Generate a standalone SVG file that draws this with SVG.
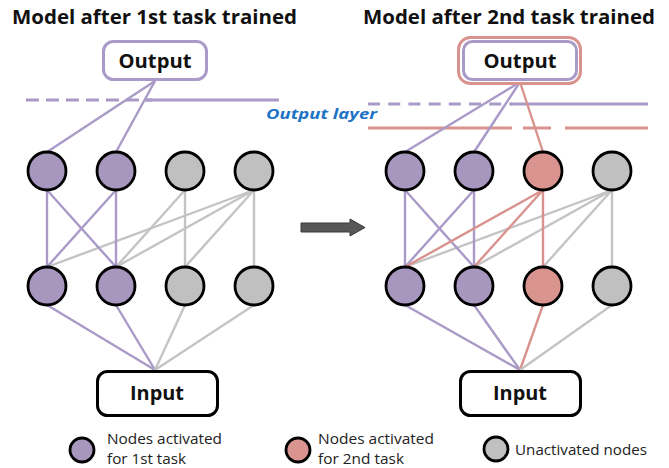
<svg xmlns="http://www.w3.org/2000/svg" width="669" height="468" viewBox="0 0 669 468">
<style>
.title{font-family:"Open Sans","Liberation Sans",sans-serif;font-weight:bold;font-size:20px;fill:#111}
.lbl{font-family:"Open Sans","Liberation Sans",sans-serif;font-weight:bold;font-size:19px;fill:#111;text-anchor:middle}
.leg{font-family:"Open Sans","Liberation Sans",sans-serif;font-size:15px;fill:#222}
.ol{font-family:"Open Sans","Liberation Sans",sans-serif;font-weight:bold;font-style:italic;font-size:15px;fill:#1e73c6}
.p{stroke:#a99ac7;stroke-width:2.4;fill:none}
.r{stroke:#d9938e;stroke-width:2.4;fill:none}
.g{stroke:#c4c4c4;stroke-width:2.4;fill:none}
.np{fill:#a797bf;stroke:#000;stroke-width:2.8}
.nr{fill:#d9948f;stroke:#000;stroke-width:2.8}
.ng{fill:#c0c0c0;stroke:#000;stroke-width:2.8}
.box{fill:#fff;stroke-width:3}
</style>

<text class="title" x="12" y="24" textLength="285" lengthAdjust="spacingAndGlyphs">Model after 1st task trained</text>
<text class="title" x="363" y="24" textLength="292" lengthAdjust="spacingAndGlyphs">Model after 2nd task trained</text>

<g id="layer-lines">
<line x1="26" y1="100" x2="152" y2="100" stroke="#a99ac7" stroke-width="3" stroke-dasharray="13 7"/>
<line x1="145" y1="100" x2="279" y2="100" stroke="#a99ac7" stroke-width="3"/>
<line x1="368" y1="104" x2="512" y2="104" stroke="#a99ac7" stroke-width="3" stroke-dasharray="12 8.2"/>
<line x1="510" y1="104" x2="648" y2="104" stroke="#a99ac7" stroke-width="3"/>
<line x1="368" y1="128" x2="512" y2="128" stroke="#d9938e" stroke-width="3"/>
<line x1="523" y1="128" x2="551" y2="128" stroke="#d9938e" stroke-width="3"/>
<line x1="565" y1="128" x2="648" y2="128" stroke="#d9938e" stroke-width="3"/>
<text class="ol" x="266" y="119" textLength="111" lengthAdjust="spacingAndGlyphs">Output layer</text>
</g>

<g id="connectors">
<line class="p" x1="155" y1="81" x2="47" y2="152"/>
<line class="p" x1="155" y1="81" x2="116" y2="152"/>
<line class="g" x1="185" y1="190" x2="116" y2="267"/>
<line class="g" x1="185" y1="190" x2="185" y2="267"/>
<line class="g" x1="254" y1="190" x2="47" y2="267"/>
<line class="g" x1="254" y1="190" x2="116" y2="267"/>
<line class="g" x1="254" y1="190" x2="185" y2="267"/>
<line class="g" x1="254" y1="190" x2="254" y2="267"/>
<line class="p" x1="47" y1="190" x2="47" y2="267"/>
<line class="p" x1="47" y1="190" x2="116" y2="267"/>
<line class="p" x1="116" y1="190" x2="47" y2="267"/>
<line class="p" x1="116" y1="190" x2="116" y2="267"/>
<line class="p" x1="47" y1="305" x2="155" y2="370"/>
<line class="p" x1="116" y1="305" x2="155" y2="370"/>
<line class="g" x1="185" y1="305" x2="155" y2="370"/>
<line class="g" x1="254" y1="305" x2="155" y2="370"/>

<line class="p" x1="520" y1="82" x2="405" y2="152"/>
<line class="p" x1="520" y1="82" x2="474" y2="152"/>
<line class="r" x1="520" y1="82" x2="543" y2="152"/>
<line class="g" x1="612" y1="190" x2="405" y2="267"/>
<line class="g" x1="612" y1="190" x2="474" y2="267"/>
<line class="g" x1="612" y1="190" x2="543" y2="267"/>
<line class="g" x1="612" y1="190" x2="612" y2="267"/>
<line class="p" x1="405" y1="190" x2="405" y2="267"/>
<line class="p" x1="405" y1="190" x2="474" y2="267"/>
<line class="p" x1="474" y1="190" x2="405" y2="267"/>
<line class="p" x1="474" y1="190" x2="474" y2="267"/>
<line class="r" x1="543" y1="190" x2="405" y2="267"/>
<line class="r" x1="543" y1="190" x2="474" y2="267"/>
<line class="r" x1="543" y1="190" x2="543" y2="267"/>
<line class="p" x1="405" y1="305" x2="520" y2="370"/>
<line class="p" x1="474" y1="305" x2="520" y2="370"/>
<line class="r" x1="543" y1="305" x2="520" y2="370"/>
<line class="g" x1="612" y1="305" x2="520" y2="370"/>
</g>

<g id="output-left">
<rect class="box" x="103.5" y="41.5" width="103" height="38" rx="10" stroke="#a99ac7"/>
<text class="lbl" x="155" y="68" textLength="73" lengthAdjust="spacingAndGlyphs">Output</text>
</g>
<g id="output-right">
<rect x="458.5" y="37.5" width="122" height="46" rx="12" fill="#fff" stroke="#d9938e" stroke-width="3"/>
<rect x="463.5" y="41.5" width="113" height="38" rx="9" fill="#fff" stroke="#a99ac7" stroke-width="3"/>
<text class="lbl" x="520" y="68" textLength="73" lengthAdjust="spacingAndGlyphs">Output</text>
</g>

<g id="input-left">
<rect class="box" x="97.5" y="371.5" width="120" height="44" rx="10" stroke="#000"/>
<text class="lbl" x="157" y="400" textLength="54" lengthAdjust="spacingAndGlyphs">Input</text>
</g>
<g id="input-right">
<rect class="box" x="460.5" y="371.5" width="120" height="44" rx="10" stroke="#000"/>
<text class="lbl" x="520" y="400" textLength="54" lengthAdjust="spacingAndGlyphs">Input</text>
</g>

<g id="left-top-1"><circle class="np" cx="47" cy="171" r="19"/></g>
<g id="left-top-2"><circle class="np" cx="116" cy="171" r="19"/></g>
<g id="left-top-3"><circle class="ng" cx="185" cy="171" r="19"/></g>
<g id="left-top-4"><circle class="ng" cx="254" cy="171" r="19"/></g>
<g id="left-bot-1"><circle class="np" cx="47" cy="286" r="19"/></g>
<g id="left-bot-2"><circle class="np" cx="116" cy="286" r="19"/></g>
<g id="left-bot-3"><circle class="ng" cx="185" cy="286" r="19"/></g>
<g id="left-bot-4"><circle class="ng" cx="254" cy="286" r="19"/></g>

<g id="right-top-1"><circle class="np" cx="405" cy="171" r="19"/></g>
<g id="right-top-2"><circle class="np" cx="474" cy="171" r="19"/></g>
<g id="right-top-3"><circle class="nr" cx="543" cy="171" r="19"/></g>
<g id="right-top-4"><circle class="ng" cx="612" cy="171" r="19"/></g>
<g id="right-bot-1"><circle class="np" cx="405" cy="286" r="19"/></g>
<g id="right-bot-2"><circle class="np" cx="474" cy="286" r="19"/></g>
<g id="right-bot-3"><circle class="nr" cx="543" cy="286" r="19"/></g>
<g id="right-bot-4"><circle class="ng" cx="612" cy="286" r="19"/></g>

<g id="arrow">
<polygon points="301,223 350,223 350,219 365,227.5 350,236 350,232 301,232" fill="#575757" stroke="#3a3a3a" stroke-width="1"/>
</g>

<g id="legend">
<circle class="np" cx="82" cy="450" r="12"/>
<text class="leg" x="107" y="444" textLength="115" lengthAdjust="spacingAndGlyphs">Nodes activated</text>
<text class="leg" x="107" y="464" textLength="79" lengthAdjust="spacingAndGlyphs">for 1st task</text>
<circle class="nr" cx="298" cy="450" r="12"/>
<text class="leg" x="318" y="444" textLength="116" lengthAdjust="spacingAndGlyphs">Nodes activated</text>
<text class="leg" x="318" y="464" textLength="86" lengthAdjust="spacingAndGlyphs">for 2nd task</text>
<circle class="ng" cx="496" cy="449" r="12"/>
<text class="leg" x="515" y="455" textLength="132" lengthAdjust="spacingAndGlyphs">Unactivated nodes</text>
</g>
</svg>
